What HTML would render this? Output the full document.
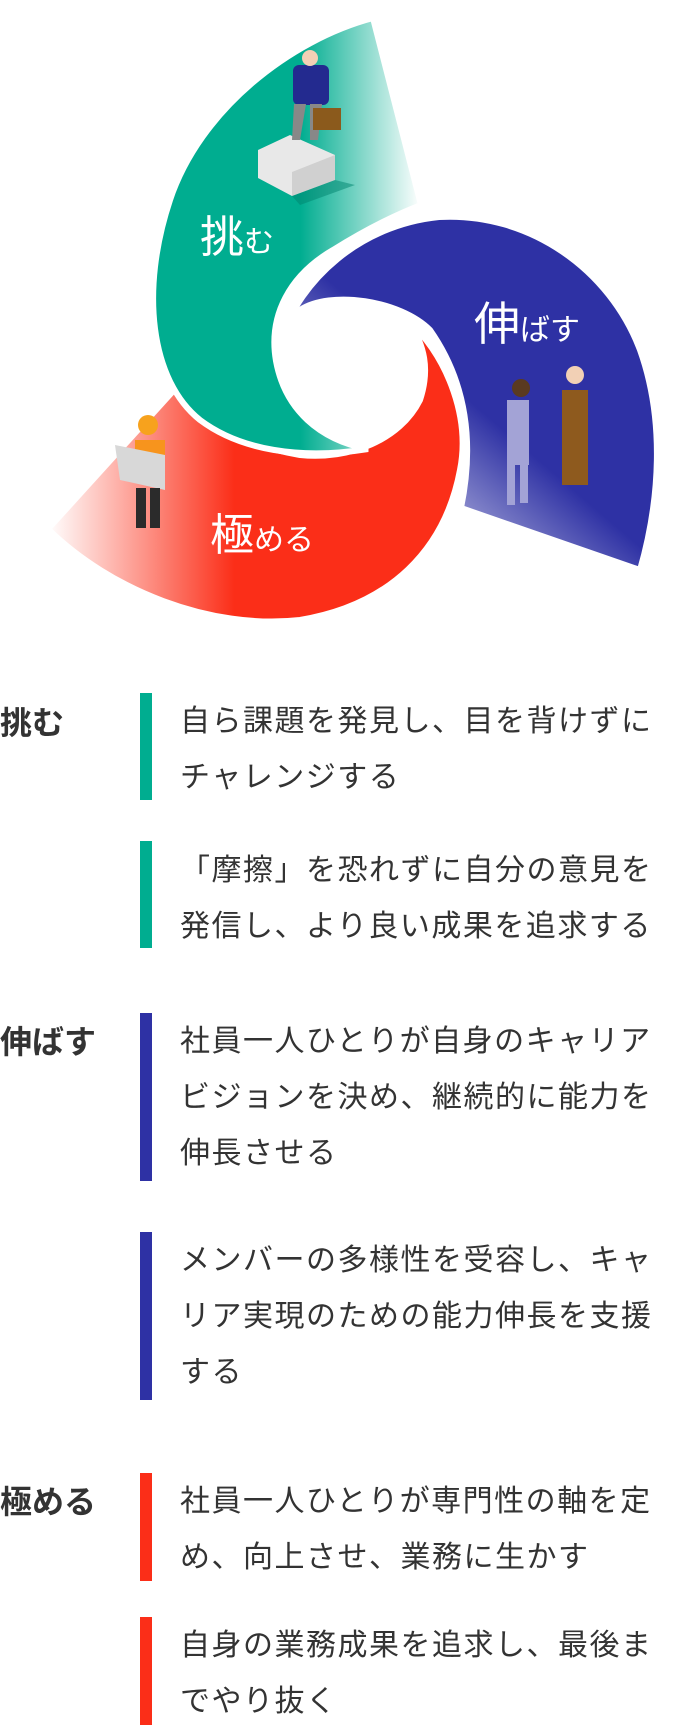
<!DOCTYPE html>
<html><head><meta charset="utf-8"><style>
html,body{margin:0;padding:0;background:#fff;}
body{width:684px;height:1725px;position:relative;overflow:hidden;font-family:"Liberation Sans","Noto Sans CJK JP",sans-serif;color:#333;}
.h{position:absolute;left:0;font-size:32px;font-weight:bold;line-height:40px;}
.bar{position:absolute;left:140px;width:12px;}
.t{position:absolute;left:180px;width:490px;font-size:30px;letter-spacing:1.5px;line-height:56px;}
</style></head><body>
<svg width="684" height="640" style="position:absolute;left:0;top:0">
<defs>
<linearGradient id="gg" x1="0" y1="0" x2="1" y2="0"><stop offset="0.55" stop-color="#00ad90"/><stop offset="1" stop-color="#00ad90" stop-opacity="0"/></linearGradient>
<linearGradient id="gb" x1="0.7" y1="0.45" x2="0.2" y2="1"><stop offset="0.25" stop-color="#2e31a4"/><stop offset="1" stop-color="#2e31a4" stop-opacity="0"/></linearGradient>
<linearGradient id="gr" x1="0" y1="0" x2="1" y2="0"><stop offset="0" stop-color="#fb2e18" stop-opacity="0"/><stop offset="0.45" stop-color="#fb2e18"/></linearGradient>
</defs>
<path d="M408,320 C450,360 470,420 460,470 C445,550 390,605 300,620 C210,630 110,590 48,529 L175,389 C200,420 240,445 300,455 C350,460 400,440 420,400 C430,370 425,345 408,320 Z" fill="url(#gr)" stroke="#fff" stroke-width="6"/>
<path d="M281,340 C300,280 360,225 439,217 C530,212 610,270 640,350 C665,420 660,500 640,570 L461,508 C475,440 465,380 430,330 C400,300 330,290 300,310 C290,318 285,328 281,340 Z" fill="url(#gb)" stroke="#fff" stroke-width="6"/>
<path d="M373,18 C290,40 200,110 170,200 C140,290 150,380 200,420 C240,450 300,460 368,449 C320,440 285,410 276,361 C268,315 290,275 333,250 C365,230 395,215 421,205 Z" fill="url(#gg)" stroke="#fff" stroke-width="6"/>
<polygon points="258,150 290,135 335,155 335,180 292,196 258,178" fill="#e8e8e8"/>
<polygon points="292,172 335,155 335,180 292,196" fill="#d0d0d0"/>
<polygon points="292,196 335,180 355,185 300,205" fill="#00846e" opacity="0.5"/>
<rect x="293" y="65" width="36" height="40" rx="6" fill="#232a8f"/>
<circle cx="310" cy="58" r="8" fill="#f2d0b5"/>
<polygon points="294,104 306,104 300,140 292,140" fill="#888"/>
<polygon points="310,104 322,104 318,140 310,140" fill="#888"/>
<rect x="313" y="108" width="28" height="22" fill="#8b5a1c"/>
<rect x="507" y="400" width="22" height="65" fill="#a3a3d6"/>
<rect x="507" y="445" width="8" height="60" fill="#a3a3d6"/><rect x="520" y="445" width="8" height="58" fill="#a3a3d6"/>
<circle cx="521" cy="388" r="9" fill="#5a3a20"/>
<rect x="562" y="390" width="26" height="95" fill="#8e5a1e"/>
<circle cx="575" cy="375" r="9" fill="#f2d0b5"/>
<rect x="135" y="440" width="30" height="40" fill="#f7941d"/>
<circle cx="148" cy="425" r="10" fill="#f7a21d"/>
<polygon points="115,445 165,455 165,490 120,480" fill="#d8d8d8"/>
<rect x="136" y="488" width="10" height="40" fill="#2b2b2b"/><rect x="150" y="488" width="10" height="40" fill="#2b2b2b"/>
<text x="200" y="252" font-size="44" fill="#fff" font-family="Liberation Sans,Noto Sans CJK JP,sans-serif">挑<tspan font-size="30">む</tspan></text>
<text x="474" y="340" font-size="46" fill="#fff" font-family="Liberation Sans,Noto Sans CJK JP,sans-serif">伸<tspan font-size="30">ばす</tspan></text>
<text x="210" y="550" font-size="44" fill="#fff" font-family="Liberation Sans,Noto Sans CJK JP,sans-serif">極<tspan font-size="30">める</tspan></text>
</svg>

<div class="h" style="top:703px">挑む</div>
<div class="bar" style="top:693px;height:107px;background:#00ad90"></div>
<div class="t" style="top:694px">自ら課題を発見し、目を背けずにチャレンジする</div>
<div class="bar" style="top:841px;height:107px;background:#00ad90"></div>
<div class="t" style="top:843px">「摩擦」を恐れずに自分の意見を発信し、より良い成果を追求する</div>

<div class="h" style="top:1022px">伸ばす</div>
<div class="bar" style="top:1013px;height:168px;background:#2e31a4"></div>
<div class="t" style="top:1014px">社員一人ひとりが自身のキャリアビジョンを決め、継続的に能力を伸長させる</div>
<div class="bar" style="top:1232px;height:168px;background:#2e31a4"></div>
<div class="t" style="top:1233px">メンバーの多様性を受容し、キャリア実現のための能力伸長を支援する</div>

<div class="h" style="top:1482px">極める</div>
<div class="bar" style="top:1473px;height:108px;background:#fb2e18"></div>
<div class="t" style="top:1474px">社員一人ひとりが専門性の軸を定め、向上させ、業務に生かす</div>
<div class="bar" style="top:1617px;height:108px;background:#fb2e18"></div>
<div class="t" style="top:1618px">自身の業務成果を追求し、最後までやり抜く</div>
</body></html>
